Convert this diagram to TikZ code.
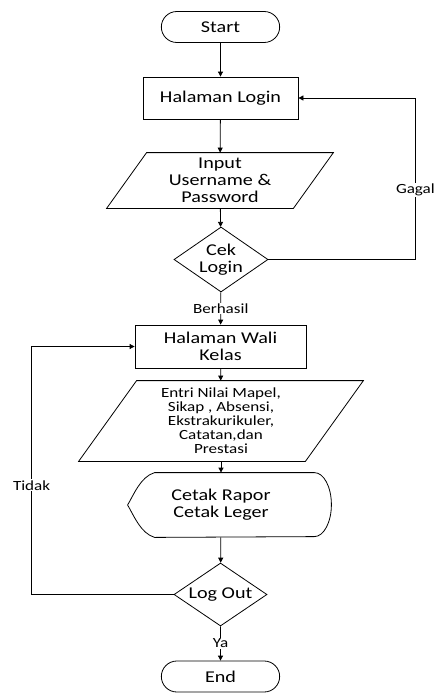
\documentclass[tikz,border=0pt]{standalone}
\usepackage{fontspec}
\setmainfont{Carlito}[FakeStretch=1.22]
\usetikzlibrary{arrows.meta,calc,shapes.geometric,shapes.misc}

\tikzset{
  big/.style={font=\fontsize{16.5}{17}\selectfont},
  small/.style={font=\fontsize{14}{14}\selectfont},
  term/.style={draw, rounded rectangle, minimum width=125, minimum height=31, big},
  proc/.style={draw, rectangle, align=center, big},
  io/.style={rectangle, align=center, inner sep=1pt},
  keputusan/.style={draw, diamond, align=center, inner sep=0pt, aspect=1.45, big},
  lbl/.style={fill=white, inner sep=1pt, small},
  arr/.style={-{Triangle[length=5pt,width=5pt]}}
}
% jajaran genjang di sekeliling node: #1 nama node, #2 setengah geseran
\newcommand{\jajargenjang}[2]{%
  \draw ($(#1.north west)+(#2,0)$) -- ($(#1.north east)+(#2,0)$)
    -- ($(#1.south east)-(#2,0)$) -- ($(#1.south west)-(#2,0)$) -- cycle;}

\begin{document}
\begin{tikzpicture}[x=1pt, y=-1pt, line width=0.8pt]
  \useasboundingbox (0,0) rectangle (437,693);
  \node[term] (start) at (220.5,27) {Start};
  \node[proc, minimum width=155, minimum height=42] (login) at (220.5,98) {Halaman Login};
  \node[io, big, minimum width=186, minimum height=55] (input) at (220,180.5) {Input\\Username \&\\Password};
  \node[keputusan, minimum width=94, minimum height=65] (cek) at (221,259.5) {Cek\\Login};
  \node[proc, minimum width=171, minimum height=43] (wali) at (220.5,346.5) {Halaman Wali\\Kelas};
  \node[io, small, minimum width=226, minimum height=80] (entri) at (221,421)
    {Entri Nilai Mapel,\\Sikap , Absensi,\\Ekstrakurikuler,\\Catatan,dan\\Prestasi};
  \node[rectangle, big, align=center, minimum width=186, minimum height=64] (cetak) at (221,505)
    {Cetak Rapor\\Cetak Leger};
  \node[keputusan, minimum width=93, minimum height=63] (logout) at (220.5,594.5) {Log Out};
  \node[term] (stop) at (220.5,676.5) {End};
  \jajargenjang{input}{20}
  \jajargenjang{entri}{29}
  % bentuk display
  \draw ($(cetak.north west)+(27,0)$) -- (cetak.north east)
    arc[start angle=-90, end angle=90, x radius=17, y radius=32]
    -- ($(cetak.south west)+(27,0)$)
    .. controls +(-14,-4) and +(6,10) .. (cetak.west)
    .. controls +(6,-10) and +(-14,4) .. ($(cetak.north west)+(27,0)$);
  % panah
  \draw[arr] (start) -- (login);
  \draw[arr] (login) -- (input);
  \draw[arr] (input) -- (cek);
  \draw[arr] (cek) -- node[lbl]{Berhasil} (wali);
  \draw[arr] (cek.east) -- ++(147,0) |- node[lbl, pos=0.215]{Gagal} (login.east);
  \draw[arr] (wali) -- (entri);
  \draw[arr] (entri) -- (cetak);
  \draw[arr] (cetak) -- (logout);
  \draw[arr] (logout) -- node[lbl]{Ya} (stop);
  \draw[arr] (logout.west) -- ++(-142,0) |- node[lbl, pos=0.22]{Tidak} (wali.west);
\end{tikzpicture}
\end{document}
